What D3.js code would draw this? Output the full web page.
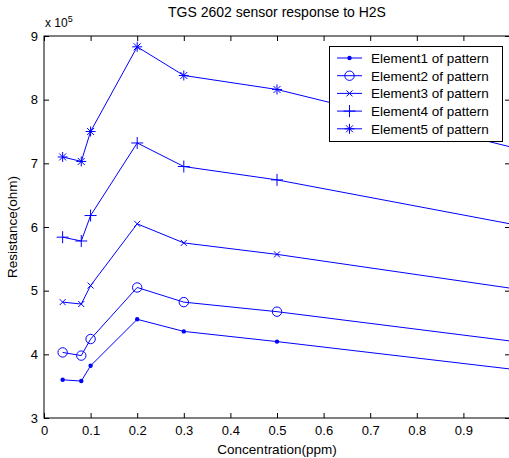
<!DOCTYPE html>
<html>
<head>
<meta charset="utf-8">
<script src="https://cdn.jsdelivr.net/npm/d3@7"></script>
<style>
  body { margin: 0; background: #fff; }
  svg { display: block; font-family: "Liberation Sans", Arial, sans-serif; }
</style>
</head>
<body>
<div id="chart"></div>
<script>
// concentration (ppm)
var conc = [0.04, 0.08, 0.1, 0.2, 0.3, 0.5, 1.0];
// resistance, in units of 1e5 ohm
var element1 = [3.60, 3.58, 3.82, 4.55, 4.36, 4.20, 3.77];
var element2 = [4.03, 3.98, 4.24, 5.05, 4.82, 4.67, 4.21];
var element3 = [4.82, 4.79, 5.08, 6.05, 5.75, 5.57, 5.04];
var element4 = [5.84, 5.78, 6.18, 7.32, 6.95, 6.74, 6.05];
var element5 = [7.10, 7.03, 7.50, 8.83, 8.38, 8.16, 7.26];
var seriesNames = ["Element1 of pattern", "Element2 of pattern", "Element3 of pattern",
                   "Element4 of pattern", "Element5 of pattern"];
var markers = ["dot", "circle", "x", "plus", "star"];
var xTicks = [0, 0.1, 0.2, 0.3, 0.4, 0.5, 0.6, 0.7, 0.8, 0.9];
var yTicks = [3, 4, 5, 6, 7, 8, 9];

var W = 509, H = 458;
var margin = {left: 44, top: 36, right: -1, bottom: 40};
var color = "#0000ff";

var svg = d3.select("#chart").append("svg")
  .attr("width", W).attr("height", H);

var x = d3.scaleLinear().domain([0, 1]).range([margin.left, W - margin.right]);
var y = d3.scaleLinear().domain([3, 9]).range([H - margin.bottom, margin.top]);

// axes box
svg.append("rect")
  .attr("x", x(0)).attr("y", y(9))
  .attr("width", x(1) - x(0)).attr("height", y(3) - y(9))
  .attr("fill", "none").attr("stroke", "#000").attr("stroke-width", 1);

var xAxis = svg.append("g").attr("transform", "translate(0," + y(3) + ")")
  .call(d3.axisBottom(x).tickValues(xTicks).tickSizeInner(-5).tickSizeOuter(0)
    .tickFormat(function(d){ return d === 0 ? "0" : d3.format(".1f")(d); }));
var xAxisTop = svg.append("g").attr("transform", "translate(0," + y(9) + ")")
  .call(d3.axisTop(x).tickValues(xTicks).tickSizeInner(-5).tickSizeOuter(0).tickFormat(""));
var yAxis = svg.append("g").attr("transform", "translate(" + x(0) + ",0)")
  .call(d3.axisLeft(y).tickValues(yTicks).tickSizeInner(-5).tickSizeOuter(0)
    .tickFormat(d3.format("d")));
var yAxisR = svg.append("g").attr("transform", "translate(" + x(1) + ",0)")
  .call(d3.axisRight(y).tickValues(yTicks).tickSizeInner(-5).tickSizeOuter(0).tickFormat(""));

svg.selectAll(".domain").remove();
svg.selectAll(".tick line").attr("stroke", "#000");
xAxis.selectAll("text").attr("dy", "0.9em").attr("y", 5)
  .style("font-size", "13px").attr("fill", "#000");
yAxis.selectAll("text").attr("x", -6)
  .style("font-size", "13px").attr("fill", "#000");

// exponent label
var ex = svg.append("text").attr("x", x(0) + 1).attr("y", 27)
  .style("font-size", "12px").attr("fill", "#000");
ex.append("tspan").text("x 10");
ex.append("tspan").attr("dy", -5).style("font-size", "9px").text("5");

// title and labels
svg.append("text").attr("x", (x(0) + x(1)) / 2).attr("y", 17)
  .attr("text-anchor", "middle").style("font-size", "14px").attr("fill", "#000")
  .text("TGS 2602 sensor response to H2S");
svg.append("text").attr("x", (x(0) + x(1)) / 2).attr("y", 454)
  .attr("text-anchor", "middle").style("font-size", "13.5px").attr("fill", "#000")
  .text("Concentration(ppm)");
svg.append("text")
  .attr("transform", "translate(17," + ((y(3) + y(9)) / 2) + ") rotate(-90)")
  .attr("text-anchor", "middle").style("font-size", "13.5px").attr("fill", "#000")
  .text("Resistance(ohm)");

function drawMarker(g, type, cx, cy) {
  if (type === "dot") {
    g.append("circle").attr("cx", cx).attr("cy", cy).attr("r", 2.2).attr("fill", color);
  } else if (type === "circle") {
    g.append("circle").attr("cx", cx).attr("cy", cy).attr("r", 4.7)
      .attr("fill", "none").attr("stroke", color).attr("stroke-width", 1);
  } else if (type === "x") {
    g.append("path").attr("d", "M" + (cx-3) + "," + (cy-3) + "L" + (cx+3) + "," + (cy+3) +
      "M" + (cx-3) + "," + (cy+3) + "L" + (cx+3) + "," + (cy-3))
      .attr("stroke", color).attr("stroke-width", 1);
  } else if (type === "plus") {
    g.append("path").attr("d", "M" + (cx-6) + "," + cy + "L" + (cx+6) + "," + cy +
      "M" + cx + "," + (cy-6) + "L" + cx + "," + (cy+6))
      .attr("stroke", color).attr("stroke-width", 1);
  } else if (type === "star") {
    g.append("path").attr("d", "M" + (cx-5) + "," + cy + "L" + (cx+5) + "," + cy +
      "M" + cx + "," + (cy-5) + "L" + cx + "," + (cy+5) +
      "M" + (cx-3.5) + "," + (cy-3.5) + "L" + (cx+3.5) + "," + (cy+3.5) +
      "M" + (cx-3.5) + "," + (cy+3.5) + "L" + (cx+3.5) + "," + (cy-3.5))
      .attr("stroke", color).attr("stroke-width", 1);
  }
}

var allSeries = [element1, element2, element3, element4, element5];
var line = d3.line().x(function(d, i){ return x(conc[i]); }).y(function(d){ return y(d); });

allSeries.forEach(function(vals, k) {
  var g = svg.append("g");
  g.append("path").datum(vals).attr("d", line)
    .attr("fill", "none").attr("stroke", color).attr("stroke-width", 1);
  vals.forEach(function(v, i) {
    // the point at the x limit sits outside the visible frame
    if (conc[i] < 1) drawMarker(g, markers[k], x(conc[i]), y(v));
  });
});

// legend
var lg = svg.append("g");
lg.append("rect").attr("x", 329.5).attr("y", 46.5).attr("width", 173).attr("height", 95)
  .attr("fill", "#fff").attr("stroke", "#000").attr("stroke-width", 1);
seriesNames.forEach(function(name, k) {
  var ly = 58 + k * 17.7;
  lg.append("line").attr("x1", 337).attr("x2", 362).attr("y1", ly).attr("y2", ly)
    .attr("stroke", color).attr("stroke-width", 1);
  drawMarker(lg, markers[k], 349.5, ly);
  lg.append("text").attr("x", 371).attr("y", ly + 5)
    .style("font-size", "13.5px").attr("fill", "#000").text(name);
});
</script>
</body>
</html>
